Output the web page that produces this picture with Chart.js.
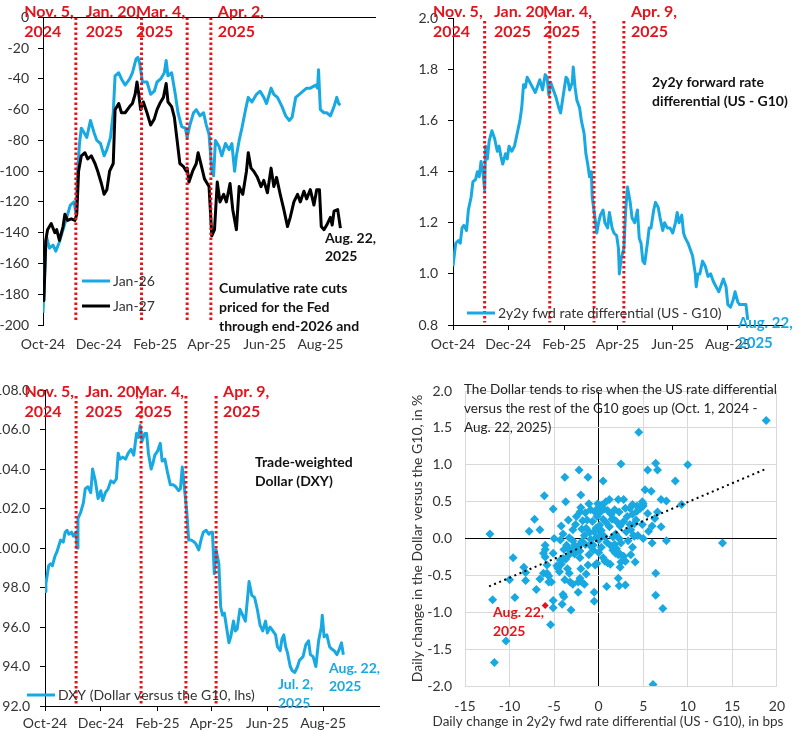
<!DOCTYPE html>
<html>
<head>
<meta charset="utf-8">
<script src="https://cdn.jsdelivr.net/npm/chart.js@4.4.1/dist/chart.umd.min.js"></script>
<style>
  body { margin: 0; background: #fff; width: 797px; height: 731px; position: relative; overflow: hidden; }
  canvas { position: absolute; }
</style>
</head>
<body>
<canvas id="cuts" width="398" height="365" style="left:0;top:0"></canvas>
<canvas id="fwd" width="399" height="365" style="left:398px;top:0"></canvas>
<canvas id="dxy" width="398" height="366" style="left:0;top:365px"></canvas>
<canvas id="scatter" width="399" height="366" style="left:398px;top:365px"></canvas>
<script>
const FONT = 'Lato, "Noto Sans", sans-serif';
const BLUE = "#19a9e2";
const RED = "#e3141b";

// x axis: days since Oct 1, 2024
const monthDays = [0, 61, 123, 182, 243, 304];
const monthLabels = ["Oct-24", "Dec-24", "Feb-25", "Apr-25", "Jun-25", "Aug-25"];

// cumulative rate cuts priced (bps)
const jan26Days = [0,3,4,7,11,14,18,22,26,30,34,36,38,40,42,46,48,52,56,59,63,67,70,74,77,79,83,86,90,95,98,102,104,106,109,114,118,122,125,129,133,135,137,141,145,148,152,156,158,161,165,168,172,176,179,182,185,187,189,193,196,200,204,207,210,212,215,218,222,225,229,234,238,242,245,250,253,257,262,266,270,273,277,281,285,289,293,299,301,302,304,308,311,315,319,322,324,326];
const jan26Cuts = [-192,-150,-143,-150,-148,-152,-146,-138,-130,-122,-120,-127,-100,-82,-72,-76,-78,-67,-75,-80,-82,-90,-86,-78,-62,-38,-36,-40,-44,-40,-36,-27,-26,-30,-42,-42,-50,-48,-42,-40,-36,-28,-38,-36,-50,-62,-71,-72,-78,-70,-62,-60,-64,-62,-70,-76,-100,-103,-80,-84,-90,-82,-86,-82,-100,-90,-80,-72,-60,-52,-55,-50,-48,-52,-56,-46,-50,-52,-58,-64,-67,-65,-52,-50,-48,-46,-46,-44,-46,-34,-60,-62,-62,-64,-58,-52,-56,-57];
const jan27Days = [0,1,3,5,9,13,15,18,22,24,27,31,35,37,39,42,46,49,53,57,60,64,67,70,73,77,79,83,86,90,95,98,101,103,105,107,110,114,118,122,125,128,132,135,137,141,144,147,150,154,157,158,160,164,168,170,173,177,180,182,185,188,191,194,198,201,205,208,212,215,219,223,225,228,231,235,239,242,246,250,253,256,260,264,268,271,275,279,282,286,289,293,297,300,303,305,308,311,315,317,319,323,326];
const jan27Cuts = [-180,-184,-145,-138,-134,-140,-138,-145,-136,-128,-132,-131,-132,-128,-100,-90,-88,-92,-90,-95,-100,-108,-115,-112,-100,-95,-60,-56,-62,-62,-58,-56,-50,-42,-50,-60,-55,-62,-70,-66,-60,-56,-52,-43,-55,-58,-65,-80,-95,-97,-100,-98,-107,-100,-95,-88,-95,-105,-108,-110,-142,-138,-107,-120,-115,-120,-108,-125,-138,-110,-115,-100,-88,-98,-100,-104,-110,-106,-114,-98,-110,-104,-115,-125,-136,-130,-120,-115,-120,-113,-118,-112,-122,-112,-112,-136,-138,-135,-130,-135,-126,-125,-137];
const cutEventDays = [36, 108, 158, 184];
const cutEventLabels = [["Nov. 5,", "2024"], ["Jan. 20,", "2025"], ["Mar. 4,", "2025"], ["Apr. 2,", "2025"]];

// 2y2y forward rate differential (US - G10)
const fwdDays = [0,1,3,6,8,10,12,15,17,20,22,25,27,29,31,33,35,36,38,40,43,46,49,51,53,55,58,60,62,65,68,71,74,76,78,80,82,85,88,91,93,96,99,102,104,106,108,111,114,117,119,122,125,127,129,132,133,135,137,140,142,145,147,149,151,153,154,157,159,161,163,166,168,171,173,176,178,181,183,184,186,189,191,193,196,198,201,204,206,208,210,212,215,217,219,222,224,227,229,232,234,237,240,243,246,248,250,253,255,257,260,262,265,268,269,271,273,276,279,282,285,288,291,294,297,299,302,304,307,310,312,315,317,321,324,326];
const fwdDiff = [1.03,1.03,1.12,1.13,1.12,1.18,1.19,1.17,1.25,1.30,1.36,1.37,1.40,1.38,1.44,1.40,1.33,1.50,1.45,1.52,1.56,1.53,1.48,1.50,1.46,1.43,1.47,1.45,1.50,1.48,1.50,1.55,1.60,1.65,1.74,1.73,1.77,1.75,1.73,1.71,1.73,1.76,1.72,1.78,1.77,1.70,1.75,1.72,1.69,1.65,1.63,1.70,1.77,1.76,1.72,1.75,1.81,1.73,1.68,1.65,1.60,1.55,1.47,1.43,1.38,1.40,1.30,1.22,1.16,1.20,1.23,1.25,1.20,1.18,1.24,1.18,1.16,1.15,1.10,1.00,1.06,1.10,1.25,1.34,1.28,1.22,1.20,1.25,1.14,1.12,1.05,1.04,1.12,1.18,1.18,1.25,1.28,1.26,1.22,1.17,1.20,1.18,1.18,1.16,1.20,1.24,1.20,1.23,1.16,1.14,1.12,1.10,1.07,1.00,0.95,1.00,1.00,1.05,1.03,0.99,1.00,0.97,0.95,0.93,0.96,0.98,0.95,0.88,0.87,0.90,0.93,0.89,0.88,0.88,0.88,0.82];
const eventDays = [35, 107, 156, 189];
const eventLabels = [["Nov. 5,", "2024"], ["Jan. 20,", "2025"], ["Mar. 4,", "2025"], ["Apr. 9,", "2025"]];

// trade-weighted dollar (DXY)
const dxyDays = [0,1,4,6,8,11,13,15,17,20,22,24,26,29,31,34,35,36,39,42,44,47,50,52,55,58,61,63,66,69,72,75,78,80,82,85,88,91,94,97,100,102,104,106,109,111,113,116,118,120,123,126,128,131,134,137,140,143,146,148,150,152,155,157,160,163,165,168,171,173,176,179,181,183,185,187,190,192,194,196,198,201,203,206,208,210,213,216,219,221,223,226,229,232,235,238,241,243,246,249,252,254,257,259,261,263,265,268,270,273,276,278,282,285,288,290,293,296,299,302,303,305,308,311,313,316,319,321,324,326];
const dxyLevel = [97.8,98.2,99.1,99.2,99.1,99.6,99.8,100.1,100.4,100.3,100.8,100.9,100.7,100.8,100.6,100.8,100.0,101.5,101.8,102.3,103.0,103.1,102.8,104.0,103.4,102.5,102.9,102.4,102.8,103.0,103.4,103.3,103.5,104.8,104.5,104.6,104.5,104.8,105.0,104.7,105.8,105.6,106.2,105.4,105.8,105.8,104.8,104.0,104.3,104.7,104.9,105.3,104.4,104.5,103.8,103.2,103.2,103.1,102.9,103.0,104.1,103.2,101.8,100.4,100.4,100.3,100.2,99.9,100.5,100.8,100.9,100.7,100.8,100.8,98.7,99.9,99.2,97.0,96.6,96.7,96.1,95.2,95.5,96.3,95.8,95.9,96.9,96.6,96.3,97.3,98.3,97.6,97.5,96.9,96.1,95.8,96.3,95.7,96.0,95.8,95.6,95.0,94.8,95.4,95.6,95.0,94.7,94.0,93.8,93.7,94.0,94.3,94.5,95.1,95.3,94.6,94.5,94.0,95.3,96.0,96.6,95.5,95.6,95.0,94.9,94.8,94.6,94.8,95.2,94.6];
const dxyEventDays = [34, 105, 154, 187];

// daily changes: 2y2y differential (bps) vs Dollar (%)
const rateChange = [18.8,4.5,2.5,6.4,10.0,6.6,5.5,8.6,0.5,-2.2,-1.2,-3.8,-6.1,-2.0,-3.7,-5.1,-7.2,-6.6,-7.8,-12.2,-4.2,-3.4,-5.0,-9.6,-8.4,-8.2,-8.2,-10.0,-7.0,-9.4,-11.9,-5.1,-5.1,-4.1,-3.1,-4.0,-3.9,-5.4,-10.4,-11.7,-0.5,-0.5,0.9,2.2,2.3,3.0,4.1,6.4,6.4,7.2,6.1,13.9,7.6,6.0,5.0,7.0,6.0,6.6,7.6,7.0,9.3,5.2,5.9,2.8,2.2,1.2,-0.1,-1.1,-2.0,-2.1,-2.5,-1.8,-1.9,-1.6,-2.9,-3.4,-3.9,-4.0,-4.3,-5.1,-6.0,-6.0,-6.2,-6.0,-5.8,-6.2,-5.8,-5.6,-5.6,-5.3,-6.6,-4.7,-4.6,-4.4,-3.5,-3.3,-3.2,-2.9,-2.3,-2.1,-1.9,-1.6,-1.4,-2.3,-3.8,-4.2,-3.7,-3.4,-3.1,-2.7,-2.1,-2.1,-2.0,-1.2,-1.1,-1.0,-0.6,-0.4,-0.2,0.0,0.3,0.7,0.9,1.4,1.6,1.8,2.0,1.9,2.2,2.4,2.8,2.5,2.4,3.0,3.6,3.8,4.0,3.9,4.4,3.1,2.8,3.2,3.8,4.3,4.7,5.0,4.9,4.3,5.5,4.9,5.6,6.3,4.2,3.5,2.3,1.8,1.5,1.2,0.8,0.5,0.3,0.6,0.1,-0.2,-0.4,-0.7,-0.3,-0.5,-1.0,-1.4,-1.3,-0.9,0.2,0.6,1.0,1.4,2.0,2.4,1.9,1.6,2.3,2.5,3.3,3.6,4.0,0.0,-0.3,0.2,-0.6,0.5,1.0,1.3,-0.9,-1.5,-1.9,-2.3,-2.7,-3.6,-4.3,-4.0,-3.3,-2.9,-2.6,-1.5,-0.1,0.3,0.8,1.6,3.0,3.5,3.8,5.0];
const dollarChange = [1.60,1.44,1.01,1.02,1.00,0.93,0.93,0.78,0.78,0.93,0.83,0.83,0.58,0.59,0.50,0.40,0.26,0.12,0.10,0.06,0.17,0.25,0.00,-0.26,-0.39,-0.46,-0.57,-0.56,-0.69,-0.80,-0.83,-0.84,-0.94,-0.89,-0.97,-0.76,-0.79,-1.17,-1.39,-1.68,-0.85,-0.73,-0.65,-0.54,-0.64,-0.63,-0.32,-0.47,-0.77,-0.95,-1.98,-0.06,-0.03,-0.06,0.00,0.16,0.17,0.36,0.51,0.53,0.46,0.66,0.64,0.53,0.53,0.53,0.47,0.47,0.42,0.36,0.30,0.24,0.13,0.04,-0.03,-0.14,-0.15,-0.27,-0.29,-0.20,-0.09,-0.15,-0.20,-0.25,-0.36,-0.47,-0.47,-0.51,-0.59,-0.59,-0.55,-0.37,-0.40,-0.45,-0.41,-0.47,-0.59,-0.62,-0.59,-0.54,-0.59,-0.62,-0.48,-0.73,-0.56,-0.35,-0.28,-0.23,-0.16,-0.21,-0.17,-0.26,-0.41,-0.36,-0.22,-0.09,-0.09,-0.36,-0.34,-0.19,-0.12,-0.31,-0.05,-0.10,-0.16,-0.08,-0.14,-0.20,-0.22,-0.21,-0.24,-0.32,-0.39,-0.31,-0.22,-0.12,0.03,0.04,0.04,0.09,0.23,0.30,0.33,0.37,0.41,0.44,0.50,0.44,0.34,0.19,0.10,0.27,0.25,0.19,0.36,0.39,0.26,0.16,0.22,0.26,0.11,0.03,0.18,0.30,0.36,0.23,0.14,0.09,0.08,0.14,0.25,0.39,0.36,0.40,0.38,0.33,0.23,0.17,0.06,0.02,0.00,-0.06,-0.03,0.12,0.20,-0.02,0.01,0.05,-0.16,-0.26,-0.33,-0.35,-0.01,-0.08,-0.04,-0.10,-0.09,-0.09,-0.02,0.06,0.01,0.12,0.19,0.35,0.41,0.45,0.50,0.27,0.41,0.41,0.46,0.47];
const lastRate = [-6.0];
const lastDollar = [-0.91];
const trendRate = [-12.3, 18.7];
const trendDollar = [-0.65, 0.94];

Chart.defaults.font.family = FONT;
Chart.defaults.font.size = 14;
Chart.defaults.color = "#333";
Chart.defaults.animation = false;

const zip = (xs, ys) => xs.map((x, i) => ({ x: x, y: ys[i] }));

// red dotted event lines, drawn as two-point line datasets
function eventLines(days, top, bottom) {
    return days.map(d => ({
        type: "line",
        data: [{ x: d, y: top }, { x: d, y: bottom }],
        borderColor: RED,
        borderWidth: 3,
        borderDash: [2.5, 2.5],
        pointRadius: 0,
        order: 0,
    }));
}

function series(label, xs, ys, color, order) {
    return {
        type: "line",
        label: label,
        data: zip(xs, ys),
        borderColor: color,
        borderWidth: 3,
        pointRadius: 0,
        tension: 0,
        borderJoinStyle: "round",
        order: order,
    };
}

function timeAxis(height, pad, marks) {
    return {
        type: "linear",
        min: 0,
        max: 365,
        afterBuildTicks: s => { s.ticks = monthDays.map(v => ({ value: v })); },
        afterFit: s => { s.height = height; },
        ticks: { autoSkip: false, maxRotation: 0, padding: pad, callback: (v, i) => monthLabels[i] },
        grid: { display: marks, drawOnChartArea: false, drawTicks: marks, tickLength: 5, tickColor: "#000" },
        border: { display: marks, color: "#000", width: 1 },
    };
}

// text notes and event labels
const notesPlugin = {
    id: "notes",
    afterDraw(chart, args, o) {
        const ctx = chart.ctx;
        const xs = chart.scales.x;
        ctx.save();
        ctx.textBaseline = "middle";
        if (o.events) {
            ctx.textAlign = "left";
            ctx.font = "bold 16px " + FONT;
            ctx.fillStyle = RED;
            o.events.days.forEach((d, i) => {
                const lines = o.events.labels[i];
                const px = xs.getPixelForValue(d);
                const w = Math.max(...lines.map(t => ctx.measureText(t).width));
                const x = i === o.events.days.length - 1 ? px + 7 : px - 2 - w;
                lines.forEach((t, k) => ctx.fillText(t, x, o.events.y + k * 19.5));
            });
        }
        (o.texts || []).forEach(t => {
            ctx.textAlign = t.align || "left";
            ctx.font = (t.bold ? "bold " : "") + (t.size || 14) + "px " + FONT;
            ctx.fillStyle = t.color || "#111";
            t.lines.forEach((s, k) => ctx.fillText(s, t.x, t.y + k * (t.lh || 19)));
        });
        ctx.restore();
    },
};

// legend drawn inside the plot
const legendPlugin = {
    id: "inlineLegend",
    afterDraw(chart, args, o) {
        if (!o.items) return;
        const ctx = chart.ctx;
        ctx.save();
        ctx.font = "14px " + FONT;
        ctx.textBaseline = "middle";
        ctx.fillStyle = "#333";
        o.items.forEach(it => {
            const ds = chart.data.datasets[it.index];
            ctx.strokeStyle = ds.borderColor;
            ctx.lineWidth = ds.borderWidth;
            ctx.beginPath();
            ctx.moveTo(it.x, it.y);
            ctx.lineTo(it.x + 28, it.y);
            ctx.stroke();
            ctx.fillText(ds.label, it.x + 31, it.y);
        });
        ctx.restore();
    },
};

const basePlugins = { legend: { display: false }, tooltip: { enabled: false } };

// panel 1: rate cuts
new Chart(document.getElementById("cuts"), {
    type: "line",
    data: {
        datasets: [
            series("Jan-27", jan27Days, jan27Cuts, "#000", 1),
            series("Jan-26", jan26Days, jan26Cuts, BLUE, 2),
            ...eventLines(cutEventDays, 0, -197),
        ],
    },
    options: {
        responsive: false,
        layout: { padding: { left: 0, right: 22, top: 12, bottom: 0 } },
        scales: {
            x: timeAxis(40, 11, false),
            y: {
                min: -200, max: 0,
                afterFit: s => { s.width = 43; },
                ticks: { stepSize: 20, padding: 9 },
                grid: { color: c => (c.tick && c.tick.value === 0 ? "#000" : "rgba(0,0,0,0)"), tickColor: "#000", tickLength: 5 },
                border: { color: "#000" },
            },
        },
        plugins: {
            ...basePlugins,
            inlineLegend: { items: [{ index: 1, x: 82, y: 281 }, { index: 0, x: 82, y: 306 }] },
            notes: {
                events: { days: cutEventDays, labels: cutEventLabels, y: 12 },
                texts: [
                    { lines: ["Cumulative rate cuts", "priced for the Fed", "through end-2026 and"], x: 219, y: 288, bold: true },
                    { lines: ["Aug. 22,", "2025"], x: 325, y: 238, bold: true, lh: 18 },
                ],
            },
        },
    },
    plugins: [notesPlugin, legendPlugin],
});

// panel 2: 2y2y forward differential
new Chart(document.getElementById("fwd"), {
    type: "line",
    data: {
        datasets: [
            series("2y2y fwd rate differential (US - G10)", fwdDays, fwdDiff, BLUE, 1),
            ...eventLines(eventDays, 1.99, 0.81),
        ],
    },
    options: {
        responsive: false,
        layout: { padding: { left: 0, right: 14, top: 12, bottom: 0 } },
        scales: {
            x: timeAxis(40, 6, true),
            y: {
                min: 0.8, max: 2.0,
                afterFit: s => { s.width = 55; },
                ticks: { stepSize: 0.2, padding: 10, callback: v => v.toFixed(1) },
                grid: { drawOnChartArea: false, tickColor: "#000", tickLength: 5 },
                border: { color: "#000" },
            },
        },
        plugins: {
            ...basePlugins,
            inlineLegend: { items: [{ index: 0, x: 69, y: 313 }] },
            notes: {
                events: { days: eventDays, labels: eventLabels, y: 12 },
                texts: [
                    { lines: ["2y2y forward rate", "differential (US - G10)"], x: 254, y: 82, bold: true },
                    { lines: ["Aug. 22,", "2025"], x: 340, y: 323, bold: true, color: BLUE, size: 15, lh: 20 },
                ],
            },
        },
    },
    plugins: [notesPlugin, legendPlugin],
});

// panel 3: DXY
new Chart(document.getElementById("dxy"), {
    type: "line",
    data: {
        datasets: [
            series("DXY (Dollar versus the G10, lhs)", dxyDays, dxyLevel, BLUE, 1),
            ...eventLines(dxyEventDays, 107.7, 92.1),
        ],
    },
    options: {
        responsive: false,
        layout: { padding: { left: 0, right: 19, top: 25, bottom: 0 } },
        scales: {
            x: timeAxis(25, 4, true),
            y: {
                min: 92, max: 108,
                afterFit: s => { s.width = 45; },
                ticks: { stepSize: 2, padding: 10, callback: v => v.toFixed(1) },
                grid: { drawOnChartArea: false, tickColor: "#000", tickLength: 5 },
                border: { color: "#000" },
            },
        },
        plugins: {
            ...basePlugins,
            inlineLegend: { items: [{ index: 0, x: 27, y: 330 }] },
            notes: {
                events: { days: dxyEventDays, labels: eventLabels, y: 27 },
                texts: [
                    { lines: ["Trade-weighted", "Dollar (DXY)"], x: 255, y: 97, bold: true },
                    { lines: ["Jul. 2,", "2025"], x: 278, y: 319, bold: true, color: BLUE, lh: 19 },
                    { lines: ["Aug. 22,", "2025"], x: 329, y: 303, bold: true, color: BLUE, lh: 18 },
                ],
            },
        },
    },
    plugins: [notesPlugin, legendPlugin],
});

// panel 4: scatter of daily changes
const gridColor = c => (c.tick && c.tick.value === 0 ? "#000" : "#d9d9d9");
new Chart(document.getElementById("scatter"), {
    type: "scatter",
    data: {
        datasets: [
            {
                type: "line",
                data: zip(trendRate, trendDollar),
                borderColor: "#000",
                borderWidth: 2,
                borderDash: [2, 3.5],
                pointRadius: 0,
                order: 0,
            },
            {
                data: zip(lastRate, lastDollar),
                pointStyle: "rectRot",
                pointRadius: 3.5,
                backgroundColor: RED,
                borderWidth: 0,
                order: 1,
            },
            {
                data: zip(rateChange, dollarChange),
                pointStyle: "rectRot",
                pointRadius: 4.5,
                backgroundColor: BLUE,
                borderWidth: 0,
                order: 2,
            },
        ],
    },
    options: {
        responsive: false,
        layout: { padding: { left: 0, right: 20, top: 26, bottom: 0 } },
        scales: {
            x: {
                type: "linear", min: -15, max: 20,
                afterFit: s => { s.height = 45; },
                ticks: { stepSize: 5, padding: 12 },
                grid: { color: gridColor, drawTicks: false },
                border: { display: false },
            },
            y: {
                min: -2, max: 2,
                afterFit: s => { s.width = 67; },
                ticks: { stepSize: 0.5, padding: 13, callback: v => v.toFixed(1) },
                grid: { color: gridColor, drawTicks: false },
                border: { display: false },
                title: { display: true, text: "Daily change in the Dollar versus the G10, in %", font: { size: 14 }, padding: { top: 11, bottom: 0 } },
            },
        },
        plugins: {
            ...basePlugins,
            notes: {
                texts: [
                    { lines: ["The Dollar tends to rise when the US rate differential", "versus the rest of the G10 goes up (Oct. 1, 2024 -", "Aug. 22, 2025)"], x: 66, y: 25, color: "#222", size: 13.5 },
                    { lines: ["Aug. 22,", "2025"], x: 95, y: 247, bold: true, color: RED },
                    { lines: ["Daily change in 2y2y fwd rate differential (US - G10), in bps"], x: 210, y: 357, color: "#333", size: 13.5, align: "center" },
                ],
            },
        },
    },
    plugins: [notesPlugin],
});
</script>
</body>
</html>
